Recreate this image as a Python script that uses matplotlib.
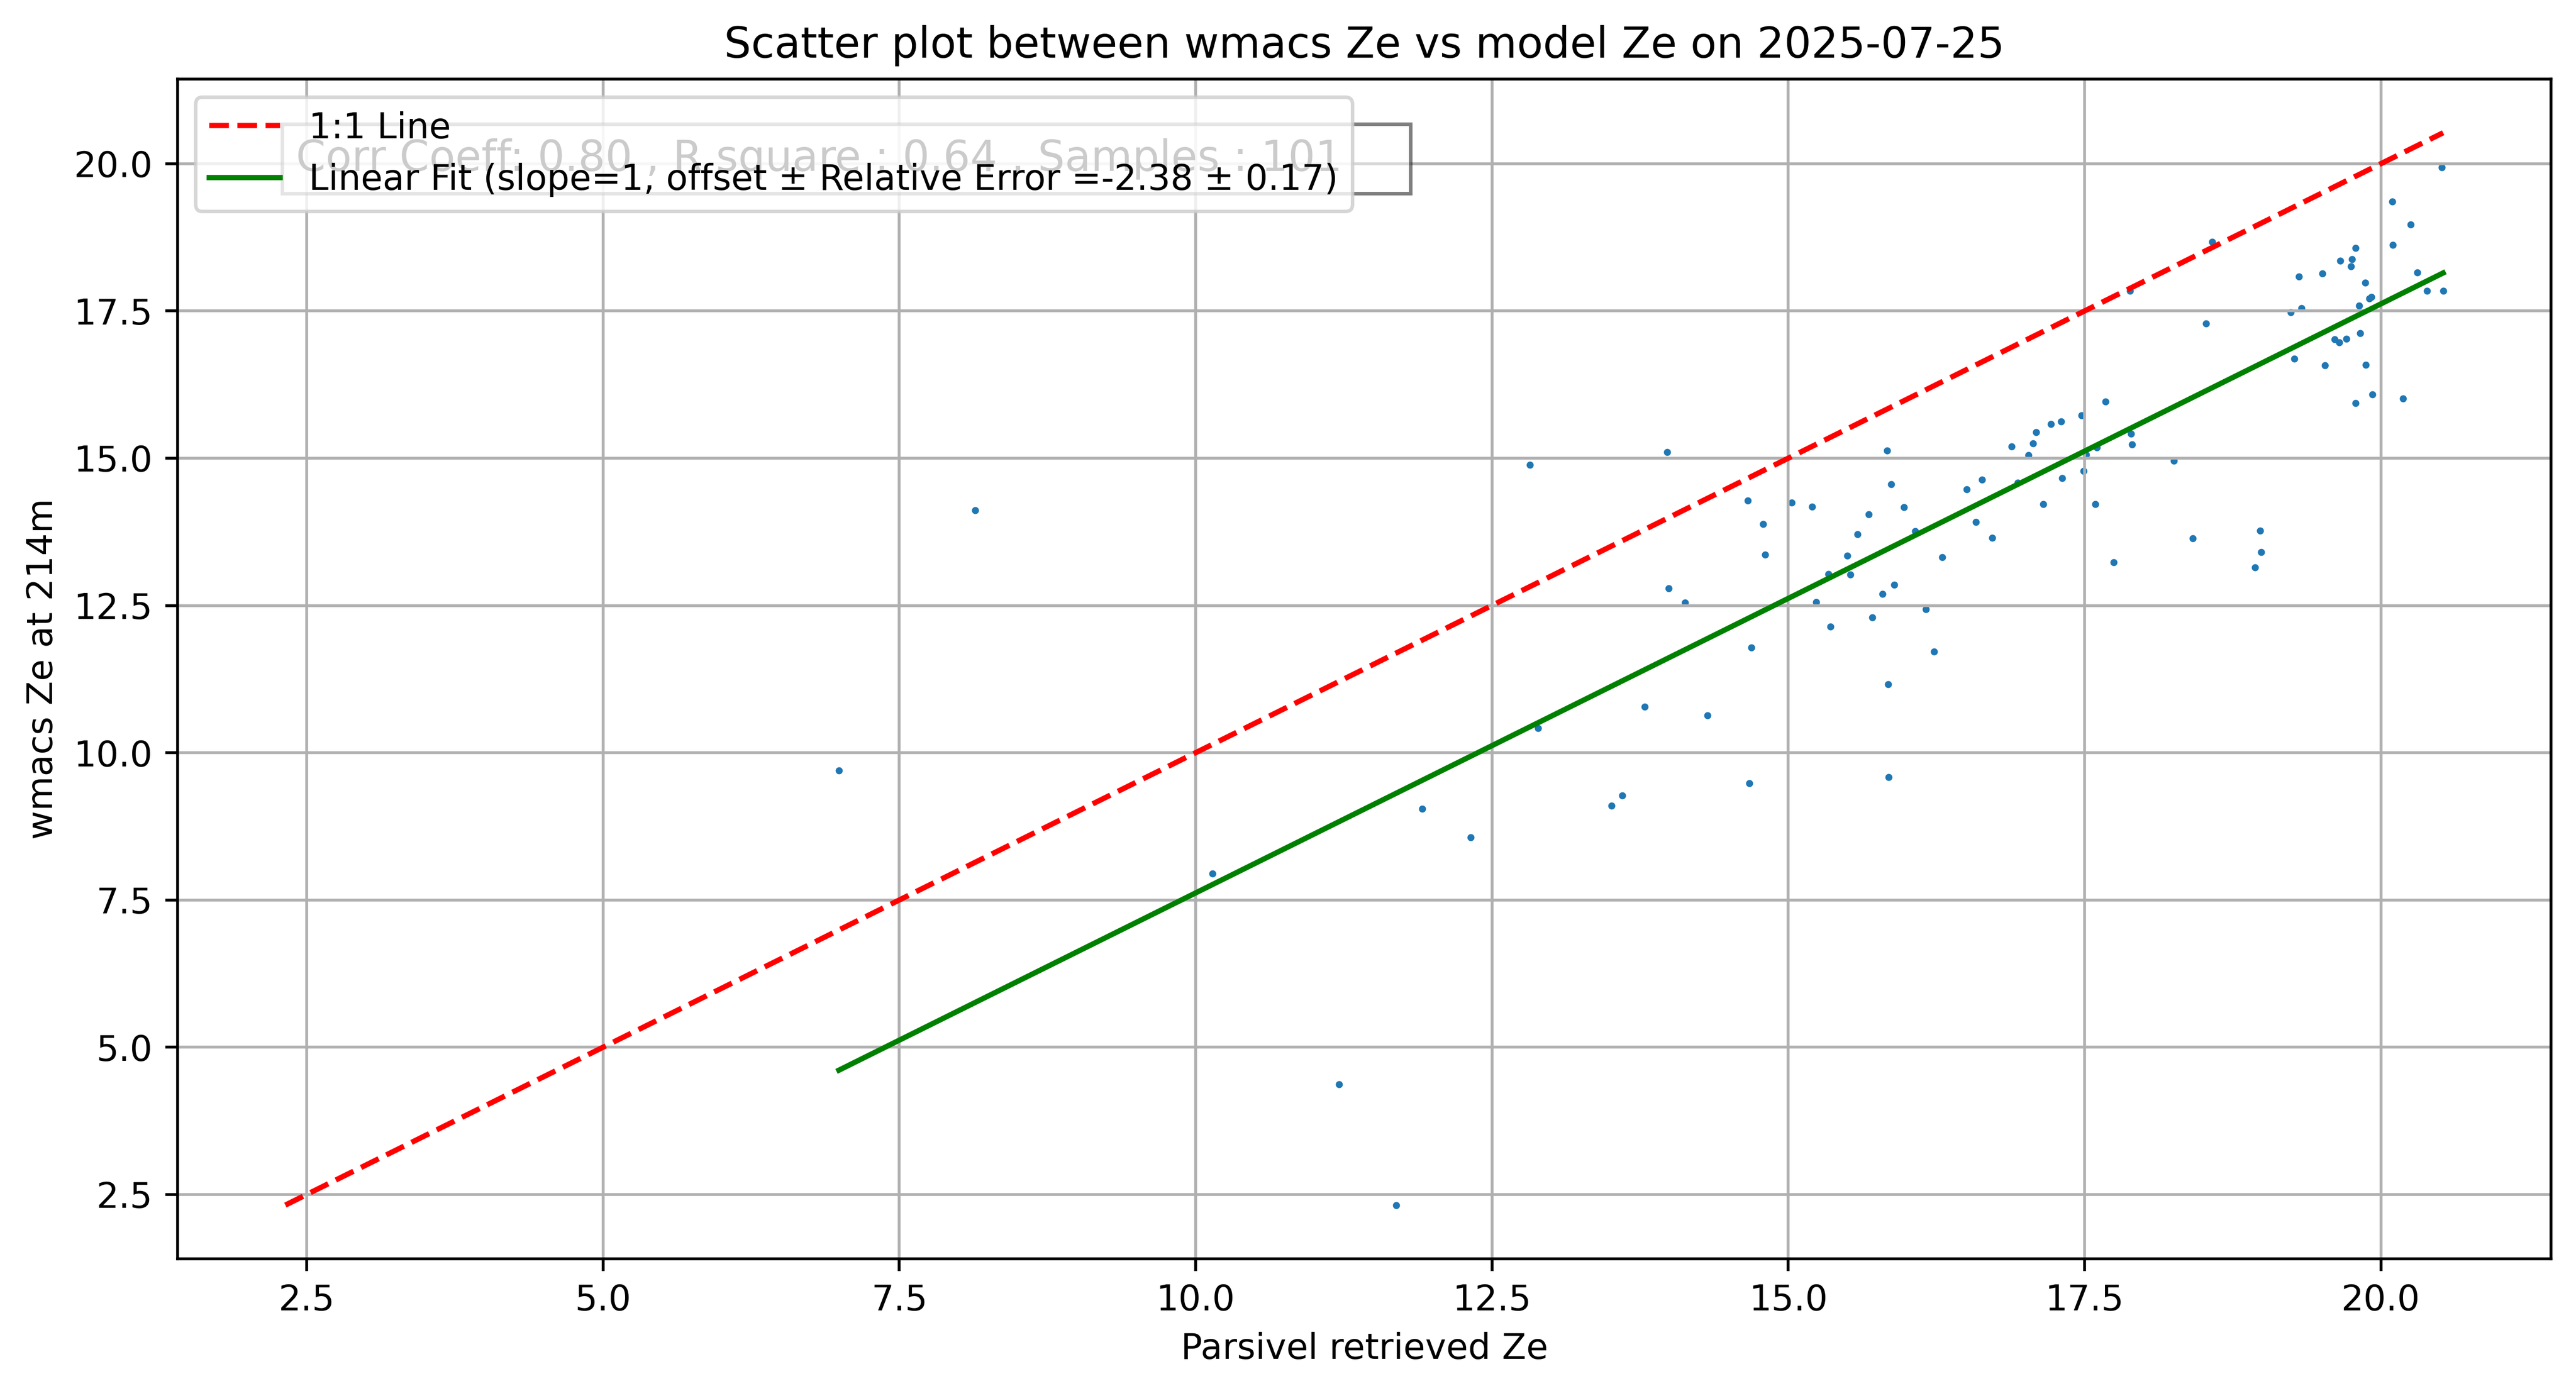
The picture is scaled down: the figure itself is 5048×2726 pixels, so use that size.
import numpy as np
import matplotlib
matplotlib.use("Agg")
import matplotlib.pyplot as plt

# Parsivel retrieved Ze (x) and wmacs Ze at 214m (y)
parsivel_ze = [
    6.99, 8.14, 10.14, 11.21, 11.69, 11.91, 12.32, 12.82, 12.89, 13.51,
    13.60, 13.79, 13.98, 13.99, 14.13, 14.32,
    15.835, 15.870, 16.505, 14.657, 15.028, 15.201, 14.787, 15.977, 15.678, 15.585,
    16.072, 14.804, 15.498, 16.297, 15.339, 15.524, 15.895, 15.796, 15.235, 16.163,
    15.710, 15.356, 14.687, 16.228,
    15.843, 15.848, 14.670,
    17.476, 17.302, 17.216, 17.092, 17.063, 16.884, 17.026, 17.511, 17.603, 17.893,
    17.902, 18.255, 16.633, 16.934, 17.311, 17.492, 17.151, 17.590, 16.584, 16.720,
    17.746, 18.411,
    18.98, 18.99, 18.94,
    18.576, 17.884, 18.523, 17.677,
    20.512, 20.098, 20.253, 20.101, 19.787, 19.656, 19.757, 19.748, 19.308, 19.507,
    20.309, 19.869, 20.387, 20.525, 19.901, 19.921, 19.817, 19.239, 19.330, 19.826,
    19.610, 19.649, 19.709, 19.269, 19.528, 19.873, 19.929, 19.787, 20.188,
]
wmacs_ze = [
    9.70, 14.12, 7.95, 4.37, 2.32, 9.05, 8.56, 14.89, 10.42, 9.10,
    9.27, 10.78, 15.10, 12.79, 12.55, 10.63,
    15.133, 14.562, 14.475, 14.285, 14.250, 14.181, 13.878, 14.164, 14.043, 13.705,
    13.763, 13.359, 13.345, 13.316, 13.030, 13.025, 12.849, 12.693, 12.558, 12.436,
    12.295, 12.139, 11.785, 11.713,
    11.163, 9.588, 9.484,
    15.730, 15.626, 15.583, 15.444, 15.254, 15.196, 15.049, 15.058, 15.179, 15.418,
    15.237, 14.957, 14.640, 14.582, 14.666, 14.787, 14.216, 14.224, 13.913, 13.645,
    13.230, 13.636,
    13.77, 13.41, 13.15,
    18.674, 17.843, 17.286, 15.957,
    19.937, 19.354, 18.965, 18.619, 18.567, 18.351, 18.377, 18.255, 18.082, 18.134,
    18.152, 17.979, 17.840, 17.840, 17.713, 17.733, 17.589, 17.477, 17.549, 17.122,
    17.018, 16.966, 17.027, 16.692, 16.577, 16.585, 16.084, 15.937, 16.015,
]

fit_offset = -2.38
fit_error = 0.17
corr_coeff = 0.80
r_square = 0.64
n_samples = 101
date_str = "2025-07-25"

x = np.array(parsivel_ze)
y = np.array(wmacs_ze)

fig = plt.figure(figsize=(5048 / 500, 2726 / 500), dpi=500)
ax = fig.add_axes([0.0689, 0.0951, 0.9903 - 0.0689, 0.9431 - 0.0951])

ax.scatter(x, y, s=1)

lo = min(x.min(), y.min())
hi = max(x.max(), y.max())
ax.plot([lo, hi], [lo, hi], 'r--', label='1:1 Line')

xs = np.sort(x)
ax.plot(xs, xs + fit_offset, 'g-',
        label=f'Linear Fit (slope=1, offset \u00b1 Relative Error ={fit_offset:.2f} \u00b1 {fit_error:.2f})')

ax.text(0.05, 0.95,
        f'Corr Coeff: {corr_coeff:.2f} , R square : {r_square:.2f} , Samples : {n_samples}    ',
        transform=ax.transAxes, fontsize=12, verticalalignment='top',
        bbox=dict(facecolor='white', alpha=0.5))

ax.set_title(f'Scatter plot between wmacs Ze vs model Ze on {date_str}')
ax.set_xlabel('Parsivel retrieved Ze')
ax.set_ylabel('wmacs Ze at 214m')
ax.legend(loc='upper left')
ax.grid(True)

fig.savefig('out.png', dpi=500)
